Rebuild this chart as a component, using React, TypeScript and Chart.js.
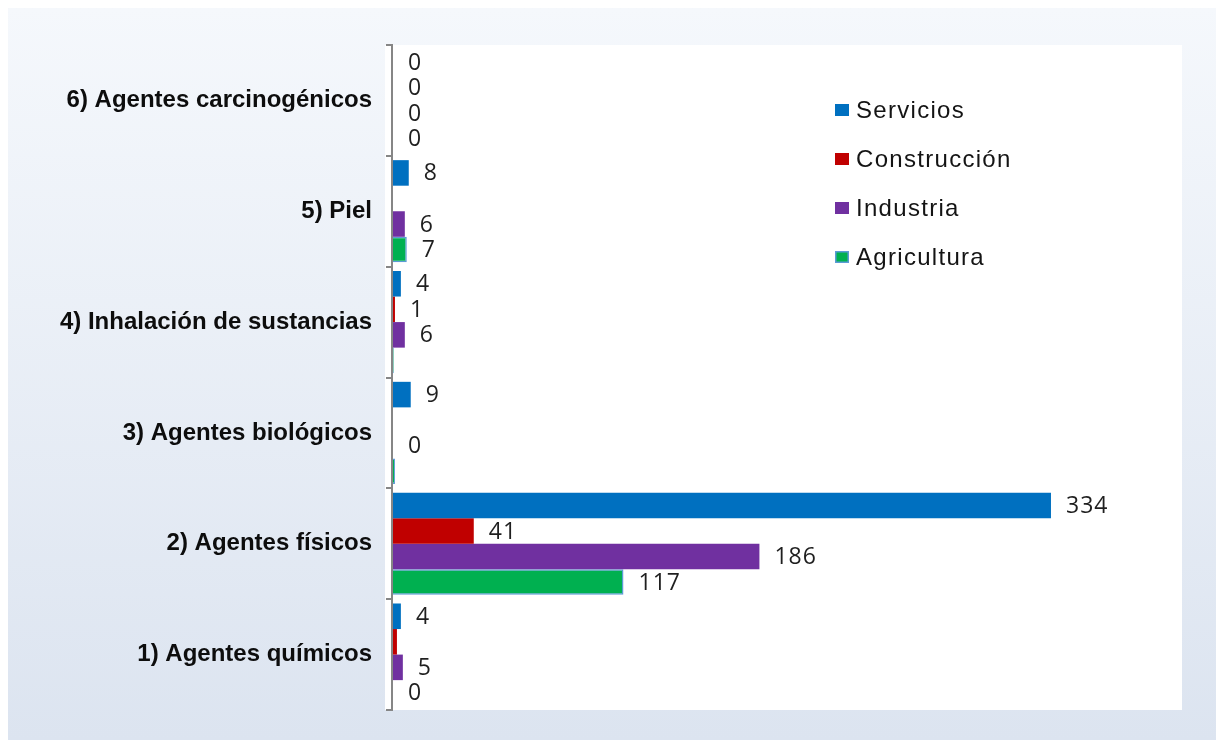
import React, { useEffect, useRef } from "react";
import { Chart, registerables } from "chart.js";

Chart.register(...registerables);

// Categories, listed top to bottom as drawn
const categories = [
  "6) Agentes carcinogénicos",
  "5) Piel",
  "4) Inhalación de sustancias",
  "3) Agentes biológicos",
  "2) Agentes físicos",
  "1) Agentes químicos",
];

const seriesNames = ["Servicios", "Construcción", "Industria", "Agricultura"];

const servicios = [0, 8, 4, 9, 334, 4];
const construccion = [0, 0, 1, 0, 41, 2];
const industria = [0, 6, 6, 0, 186, 5];
const agricultura = [0, 7, 0.4, 1, 117, 0];

// Data labels as shown in the picture ("" = no label)
const serviciosLabels = ["0", "8", "4", "9", "334", "4"];
const construccionLabels = ["0", "", "1", "", "41", ""];
const industriaLabels = ["0", "6", "6", "0", "186", "5"];
const agriculturaLabels = ["0", "7", "", "", "117", "0"];

const xMax = 400;

const seriesColors = ["#0070c0", "#c00000", "#7030a0", "#00b050"];

export default function App() {
  const ref = useRef<HTMLCanvasElement>(null);

  useEffect(() => {
    const canvas = ref.current;
    if (!canvas) return;
    const labelSets = [serviciosLabels, construccionLabels, industriaLabels, agriculturaLabels];

    const plotBg = {
      id: "plotBg",
      beforeDraw(chart: any) {
        const { ctx, chartArea: a } = chart;
        ctx.save();
        ctx.fillStyle = "#ffffff";
        ctx.fillRect(a.left - 8, a.top, a.right - a.left + 9, a.bottom - a.top);
        ctx.restore();
      },
      beforeDatasetsDraw(chart: any) {
        const { ctx, chartArea: a } = chart;
        ctx.save();
        ctx.strokeStyle = "#868686";
        ctx.lineWidth = 2;
        ctx.beginPath();
        ctx.moveTo(a.left - 1, a.top);
        ctx.lineTo(a.left - 1, a.bottom);
        ctx.stroke();
        ctx.restore();
      },
    };

    const valueLabels = {
      id: "valueLabels",
      afterDatasetsDraw(chart: any) {
        const { ctx } = chart;
        ctx.save();
        ctx.font = '23px "Open Sans"';
        (ctx as any).letterSpacing = "1px";
        ctx.fillStyle = "#1f1f1f";
        ctx.textAlign = "left";
        ctx.textBaseline = "middle";
        chart.data.datasets.forEach((ds: any, di: number) => {
          const meta = chart.getDatasetMeta(di);
          meta.data.forEach((el: any, i: number) => {
            const t = labelSets[di][i];
            if (!t) return;
            ctx.fillText(t, el.x + 15, el.y + 1);
          });
        });
        ctx.restore();
      },
    };

    const legendPlugin = {
      id: "customLegend",
      afterDraw(chart: any) {
        const { ctx, chartArea: a } = chart;
        ctx.save();
        ctx.font = '24px "Liberation Sans"';
        (ctx as any).letterSpacing = "1.3px";
        ctx.textAlign = "left";
        ctx.textBaseline = "middle";
        const x0 = a.left + 442;
        chart.data.datasets.forEach((ds: any, i: number) => {
          const cy = a.top + 65 + i * 49;
          ctx.fillStyle = ds.backgroundColor;
          ctx.fillRect(x0, cy - 6, 14, 12);
          if (i === 3) {
            ctx.strokeStyle = ds.borderColor;
            ctx.lineWidth = 1.5;
            ctx.strokeRect(x0 + 0.75, cy - 5.25, 12.5, 10.5);
          }
          ctx.fillStyle = "#141414";
          ctx.fillText(ds.label, x0 + 21, cy + 1);
        });
        ctx.restore();
      },
    };

    const chart = new Chart(canvas, {
      type: "bar",
      data: {
        labels: categories,
        datasets: [
          { label: seriesNames[0], data: servicios, backgroundColor: seriesColors[0], borderWidth: 0 },
          { label: seriesNames[1], data: construccion, backgroundColor: seriesColors[1], borderWidth: 0 },
          { label: seriesNames[2], data: industria, backgroundColor: seriesColors[2], borderWidth: 0 },
          {
            label: seriesNames[3],
            data: agricultura,
            backgroundColor: seriesColors[3],
            borderColor: "#5b9bd5",
            borderWidth: 1.5,
          },
        ],
      },
      options: {
        indexAxis: "y",
        responsive: false,
        animation: false,
        layout: { padding: { top: 37, bottom: 30, right: 35, left: 0 } },
        datasets: { bar: { categoryPercentage: 0.922, barPercentage: 1 } },
        plugins: { legend: { display: false }, tooltip: { enabled: false } },
        scales: {
          x: { type: "linear", min: 0, max: xMax, display: false },
          y: {
            type: "category",
            offset: true,
            grid: {
              display: true,
              drawOnChartArea: false,
              drawTicks: true,
              tickLength: 7,
              color: "#868686",
              lineWidth: 2,
              offset: true,
            },
            border: { display: false },
            ticks: {
              font: { family: "Liberation Sans", size: 24, weight: "bold" },
              color: "#0d0d0d",
              padding: 14,
            },
            afterFit(scale: any) {
              scale.width = 385;
            },
          },
        },
      } as any,
      plugins: [plotBg, valueLabels, legendPlugin],
    });

    return () => chart.destroy();
  }, []);

  return (
    <div
      style={{
        position: "fixed",
        left: 8,
        top: 8,
        width: 1208,
        height: 732,
        background: "linear-gradient(#f5f8fc, #dce4f0)",
      }}
    >
      <canvas ref={ref} width={1208} height={732} style={{ display: "block" }} />
    </div>
  );
}
